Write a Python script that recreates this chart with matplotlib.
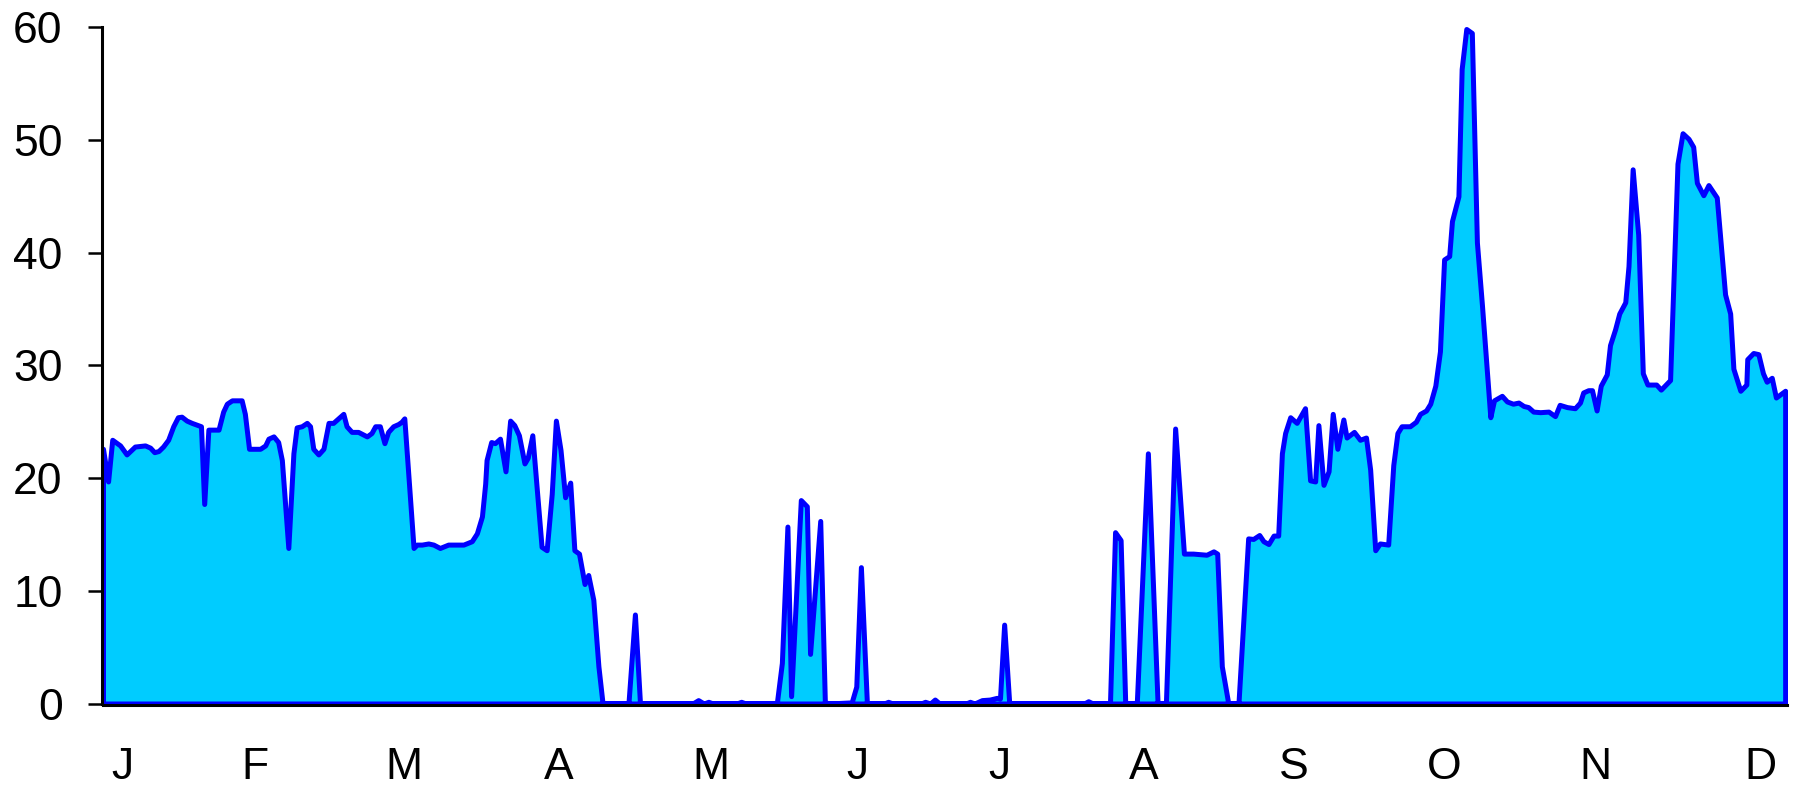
import matplotlib
matplotlib.use("Agg")
import matplotlib.pyplot as plt

# vertices of the daily series (day of year, value)
days = [
    0.0, 1.1, 2.0, 3.7, 5.1, 6.9, 9.1, 10.2, 11.1, 12.0, 13.0, 14.1, 15.2, 16.2,
    17.0, 18.1, 19.2, 21.2, 21.9, 22.8, 25.0, 26.0, 26.8, 27.9, 30.0, 30.7, 31.6,
    34.0, 35.1, 35.8, 36.9, 37.9, 38.7, 40.1, 41.2, 41.9, 43.0, 44.1, 44.8, 45.5,
    46.6, 47.7, 48.8, 49.8, 50.9, 52.0, 52.7, 53.8, 55.2, 57.1, 58.1, 58.9, 59.9,
    60.9, 61.7, 62.8, 63.9, 64.6, 65.2, 67.2, 67.9, 69.0, 70.4, 71.5, 72.9, 74.7,
    78.0, 79.8, 80.9, 82.0, 82.7, 83.0, 84.0, 84.8, 85.9, 87.1, 88.1, 89.0, 90.0,
    91.2, 91.9, 92.9, 94.9, 96.0, 97.1, 98.0, 99.0, 100.0, 101.1, 102.0, 103.0,
    104.2, 105.0, 106.1, 107.2, 108.1, 113.7, 115.1, 116.2, 127.6, 128.8, 130.0,
    131.0, 132.0, 137.1, 138.1, 139.1, 145.8, 146.9, 148.1, 148.9, 151.0, 152.3,
    153.0, 155.2, 156.2, 157.0, 162.0, 163.0, 164.0, 165.3, 169.0, 169.9, 170.9,
    177.0, 177.9, 179.0, 180.0, 181.0, 186.7, 187.6, 188.6, 190.2, 191.9, 193.4,
    194.1, 195.0, 196.1, 212.3, 213.2, 214.2, 217.9, 219.0, 220.2, 221.2, 223.7,
    226.1, 228.2, 230.0, 232.0, 233.9, 235.9, 238.8, 240.3, 241.1, 242.1, 243.5,
    245.7, 247.8, 248.9, 250.2, 251.1, 252.2, 253.3, 254.3, 255.1, 255.8, 256.9,
    258.3, 260.1, 261.2, 262.3, 263.0, 264.1, 265.2, 266.1, 267.1, 268.4, 269.1,
    270.7, 272.0, 273.3, 274.2, 275.3, 276.3, 278.1, 279.2, 280.1, 281.0, 282.8,
    284.1, 285.0, 286.3, 287.2, 288.3, 289.3, 290.2, 291.3, 291.9, 293.3, 294.0,
    295.0, 296.2, 297.3, 298.4, 300.2, 301.0, 302.7, 303.8, 305.1, 306.3, 307.4,
    308.4, 309.5, 311.0, 312.8, 314.2, 315.2, 316.8, 318.5, 319.6, 320.3, 321.4,
    322.2, 323.2, 324.1, 325.4, 326.1, 327.2, 328.1, 329.4, 330.1, 331.0, 332.2,
    333.2, 334.2, 336.1, 337.1, 339.1, 340.7, 341.8, 343.1, 344.1, 344.9, 346.3,
    347.4, 349.2, 351.0, 352.1, 352.8, 354.3, 355.6, 355.8, 357.1, 358.2, 359.2,
    360.0, 361.1, 362.0, 364.0,
]
values = [
    22.6, 19.7, 23.4, 22.9, 22.1, 22.8, 22.9, 22.7, 22.3, 22.4, 22.8, 23.4, 24.6, 25.4,
    25.45, 25.1, 24.9, 24.6, 17.7, 24.3, 24.3, 25.9, 26.6, 26.9, 26.9, 25.7, 22.6,
    22.6, 22.9, 23.5, 23.7, 23.2, 21.6, 13.8, 22.2, 24.5, 24.6, 24.9, 24.6, 22.6,
    22.1, 22.6, 24.9, 24.9, 25.3, 25.7, 24.6, 24.1, 24.1, 23.7, 24.0, 24.6, 24.6,
    23.1, 24.1, 24.6, 24.8, 25.0, 25.3, 13.8, 14.1, 14.1, 14.2, 14.1, 13.8, 14.1,
    14.1, 14.4, 15.1, 16.6, 19.5, 21.6, 23.2, 23.1, 23.5, 20.6, 25.1, 24.7, 23.8,
    21.3, 21.8, 23.8, 13.9, 13.6, 18.6, 25.1, 22.5, 18.3, 19.6, 13.6, 13.3,
    10.6, 11.4, 9.2, 3.3, 0.0, 0.0, 7.9, 0.0, 0.0, 0.3, 0.0,
    0.15, 0.0, 0.0, 0.15, 0.0, 0.0, 3.6, 15.7, 0.65, 18.05, 17.5,
    4.4, 16.2, 0.15, 0.0, 0.1, 1.5, 12.1, 0.0, 0.0, 0.15, 0.0,
    0.0, 0.15, 0.0, 0.35, 0.0, 0.0, 0.15, 0.0, 0.3, 0.35, 0.5,
    0.45, 7.0, 0.0, 0.0, 0.2, 0.0, 0.0, 15.2, 14.5, 0.0, 0.0,
    22.2, 0.0, 0.0, 24.4, 13.3, 13.3, 13.2, 13.5, 13.3, 3.3, 0.0,
    0.0, 14.65, 14.6, 14.95, 14.4, 14.15, 14.9, 14.9, 22.2, 24.0, 25.4,
    24.9, 26.2, 19.8, 19.7, 24.7, 19.4, 20.6, 25.7, 22.6, 25.2, 23.6,
    24.1, 23.4, 23.6, 20.75, 13.6, 14.2, 14.1, 21.15, 24.0, 24.6, 24.6,
    25.0, 25.7, 26.0, 26.6, 28.2, 31.25, 39.4, 39.7, 42.8, 45.0, 56.3,
    59.85, 59.5, 40.9, 35.3, 25.4, 26.9, 27.3, 26.8, 26.6, 26.7, 26.4,
    26.3, 25.9, 25.85, 25.9, 25.5, 26.5, 26.3, 26.2, 26.7, 27.6, 27.8,
    27.8, 26.0, 28.2, 29.2, 31.8, 33.2, 34.6, 35.6, 38.8, 47.4, 41.6,
    29.3, 28.3, 28.3, 27.85, 28.7, 47.9, 50.6, 50.1, 49.4, 46.2, 45.1,
    46.0, 44.9, 36.3, 34.6, 29.7, 27.75, 28.3, 30.55, 31.1, 31.0, 29.3,
    28.55, 28.9, 27.15, 27.75,
]

month_labels = ["J", "F", "M", "A", "M", "J", "J", "A", "S", "O", "N", "D"]
month_pos = [4.2, 32.8, 65.1, 98.6, 131.6, 163.3, 194.0, 225.3, 257.6, 290.2, 322.9, 358.6]
y_ticks = [0, 10, 20, 30, 40, 50, 60]

plt.rcParams["font.family"] = ["Liberation Sans", "DejaVu Sans"]

W, H = 1797, 787
fig = plt.figure(figsize=(W / 100, H / 100), dpi=100)
ax = fig.add_axes([103 / W, (H - 703.5) / H, 1684 / W, 676.2 / H])

ax.fill_between(days, values, 0, facecolor="#00CCFF", edgecolor="#0000FF",
                linewidth=3.6, joinstyle="round")

ax.set_xlim(0, 364.4)
ax.set_ylim(0, 60)
ax.set_yticks(y_ticks)
ax.set_xticks(month_pos)
ax.set_xticklabels(month_labels)

for s in ("top", "right"):
    ax.spines[s].set_visible(False)
for s in ("left", "bottom"):
    ax.spines[s].set_color("black")
    ax.spines[s].set_linewidth(2.2)
    ax.spines[s].set_position(("outward", 1))

ax.tick_params(axis="y", direction="out", length=10, width=1.8, pad=18,
               labelsize=32, colors="black")
ax.tick_params(axis="x", length=0, pad=30, labelsize=32, colors="black")

fig.savefig("out.png", dpi=100)
